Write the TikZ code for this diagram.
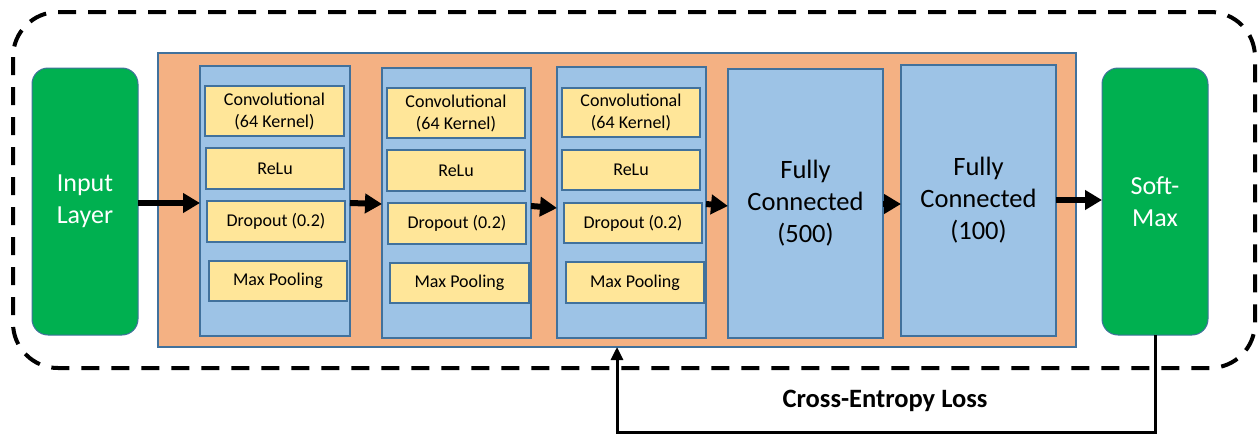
\documentclass[tikz,border=0pt]{standalone}
\usepackage{fontspec}
\setmainfont{Carlito}
\usetikzlibrary{arrows.meta}
\definecolor{cgreen}{HTML}{00B050}
\definecolor{corange}{HTML}{F4B183}
\definecolor{cblue}{HTML}{9DC3E6}
\definecolor{cyellow}{HTML}{FFE699}
\definecolor{cborder}{HTML}{41719C}
\tikzset{
  outerdash/.style={line width=4pt, dash pattern=on 18pt off 12pt, rounded corners=45pt},
  orangebox/.style={draw=cborder, line width=1.2pt, fill=corange, inner sep=0pt, outer sep=0pt},
  bluebox/.style={draw=cborder, line width=1.2pt, fill=cblue, inner sep=0pt, outer sep=0pt, align=center, font=\fontsize{26.5}{32}\selectfont},
  yellowbox/.style={draw=cborder, line width=1.2pt, fill=cyellow, inner sep=0pt, outer sep=0pt, align=center, font=\fontsize{18}{22}\selectfont},
  greenbox/.style={draw=cborder, line width=1pt, fill=cgreen, rounded corners=16pt, inner sep=0pt, outer sep=0pt, align=center, text=white, font=\fontsize{26}{32}\selectfont, minimum width=106pt, minimum height=267pt},
  bigarrow/.style={line width=6pt, -{Triangle[length=17pt,width=19pt]}},
  fbarrow/.style={line width=3pt, -{Triangle[length=13pt,width=12pt]}},
  losslabel/.style={font=\bfseries\fontsize{26.5}{30}\selectfont},
}
\begin{document}
\begin{tikzpicture}[x=1pt,y=-1pt]
\useasboundingbox (0,0) rectangle (1259,434);
\draw[outerdash] (13,12) rectangle (1255,368);
\node[orangebox, minimum width=918pt, minimum height=294pt] (orange) at (617,200) {};
\node[greenbox] (in) at (85,201.5) {Input\\Layer};
\node[greenbox] (sm) at (1155,201.5) {Soft-\\Max};
% block 1
\node[bluebox, minimum width=150pt, minimum height=270pt] (b1) at (275,201) {};
\node[yellowbox, minimum width=139pt, minimum height=50pt] (b1conv) at (274.5,111) {Convolutional\\(64 Kernel)};
\node[yellowbox, minimum width=138pt, minimum height=41pt] (b1relu) at (275,168.5) {ReLu};
\node[yellowbox, minimum width=138pt, minimum height=41pt] (b1drop) at (276,221.5) {Dropout (0.2)};
\node[yellowbox, minimum width=138pt, minimum height=40pt] (b1pool) at (278,281) {Max Pooling};
% block 2
\node[bluebox, minimum width=149pt, minimum height=270pt] (b2) at (456.5,203) {};
\node[yellowbox, minimum width=138pt, minimum height=50pt] (b2conv) at (456,113) {Convolutional\\(64 Kernel)};
\node[yellowbox, minimum width=138pt, minimum height=41pt] (b2relu) at (456,170.5) {ReLu};
\node[yellowbox, minimum width=138pt, minimum height=41pt] (b2drop) at (457,223.5) {Dropout (0.2)};
\node[yellowbox, minimum width=139pt, minimum height=40pt] (b2pool) at (459.5,283) {Max Pooling};
% block 3
\node[bluebox, minimum width=149pt, minimum height=271pt] (b3) at (631.5,202.5) {};
\node[yellowbox, minimum width=138pt, minimum height=49pt] (b3conv) at (631,112.5) {Convolutional\\(64 Kernel)};
\node[yellowbox, minimum width=138pt, minimum height=40pt] (b3relu) at (631,170) {ReLu};
\node[yellowbox, minimum width=138pt, minimum height=40pt] (b3drop) at (633,223) {Dropout (0.2)};
\node[yellowbox, minimum width=138pt, minimum height=41pt] (b3pool) at (635,282.5) {Max Pooling};
% fully connected
\node[bluebox, minimum width=155pt, minimum height=269pt] (fc1) at (805.5,203.5) {Fully\\Connected\\(500)};
\node[bluebox, minimum width=155pt, minimum height=271pt] (fc2) at (978.5,200.5) {Fully\\Connected\\(100)};
% arrows
\draw[bigarrow] (in.east |- 0,203) -- (b1.west |- 0,203);
\draw[bigarrow] (b1.east |- 0,203) -- (b2.west |- 0,204);
\draw[bigarrow] (b2.east |- 0,206) -- (b3.west |- 0,208);
\draw[bigarrow] (b3.east |- 0,204) -- (fc1.west |- 0,206);
\draw[bigarrow] (fc1.east |- 0,204) -- (fc2.west |- 0,204);
\draw[bigarrow] (fc2.east |- 0,200) -- (sm.west |- 0,200);
% feedback
\coordinate (fbcorner) at (617,432);
\draw[fbarrow] (sm.south) -- (sm.south |- fbcorner) -- (fbcorner) -- (fbcorner |- orange.south);
\node[losslabel] (loss) at (885,401) {Cross-Entropy Loss};
\end{tikzpicture}
\end{document}
